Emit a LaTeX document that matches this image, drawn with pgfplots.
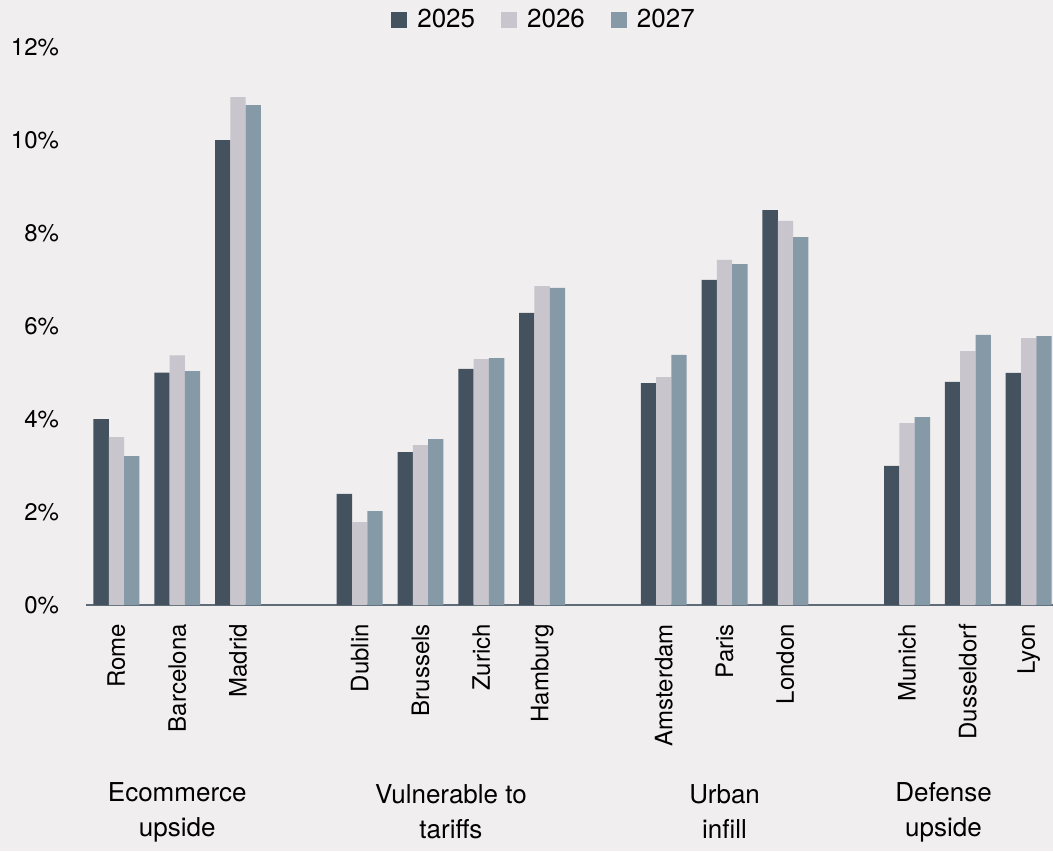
\documentclass[border=0pt]{standalone}
\usepackage{pgfplots}
\pgfplotsset{compat=1.18}
\usepackage{pgfplotstable}
\usepackage{fontspec}
\setmainfont{TeX Gyre Heros}

\definecolor{bgc}{HTML}{F1EEEF}
\definecolor{c25}{HTML}{44525F}
\definecolor{c26}{HTML}{C8C6CC}
\definecolor{c27}{HTML}{8699A7}
\definecolor{axc}{HTML}{5F6B77}
\definecolor{txt}{HTML}{1A1A1A}

% x: slot position (empty slots 3, 8, 12 separate the groups)
\pgfplotstableread{
x  y25   y26   y27
0  4.00  3.61  3.20
1  5.00  5.37  5.03
2  10.00 10.92 10.75
4  2.39  1.78  2.02
5  3.29  3.44  3.57
6  5.08  5.29  5.31
7  6.28  6.86  6.82
9  4.77  4.90  5.38
10 6.99  7.42  7.33
11 8.49  8.26  7.91
13 2.99  3.91  4.04
14 4.80  5.46  5.81
15 4.99  5.74  5.78
}\cities

\begin{document}
\begin{tikzpicture}[font=\color{txt}]
\path[use as bounding box, fill=bgc] (0,0) rectangle (526.5pt,-425.5pt);
\begin{axis}[
    at={(43pt,-302.5pt)}, anchor=south west,
    width=483.5pt, height=279pt, scale only axis,
    ybar=0pt, bar width=7.65pt,
    xmin=-0.5, xmax=15.4,
    ymin=0, ymax=12,
    ytick={0,2,...,12},
    yticklabel={\pgfmathprintnumber{\tick}\%},
    /pgf/number format/assume math mode=true,
    xtick={0,1,2,4,5,6,7,9,10,11,13,14,15},
    xticklabels={Rome,Barcelona,Madrid,Dublin,Brussels,Zurich,Hamburg,
                 Amsterdam,Paris,London,Munich,Dusseldorf,Lyon},
    xticklabel style={rotate=90, anchor=east, font=\fontsize{12}{14}\selectfont},
    xticklabel shift=6pt,
    yticklabel style={anchor=east, font=\fontsize{12}{14}\selectfont},
    yticklabel shift=10pt,
    major tick length=0pt,
    axis x line*=bottom,
    axis y line*=left,
    y axis line style={draw=none},
    x axis line style={draw=axc, line width=1pt, -},
    clip=false,
    legend style={at={(0.4747,1.048)}, anchor=center, draw=none, fill=none,
                  legend columns=-1, font=\fontsize{13}{15}\selectfont,
                  /tikz/every odd column/.append style={column sep=3pt},
                  /tikz/every even column/.append style={column sep=11pt}},
    legend image code/.code={\fill[#1] (0pt,-4pt) rectangle (8pt,4pt);},
  ]
  \addplot[fill=c25, draw=none] table[x=x, y=y25] {\cities};
  \addplot[fill=c26, draw=none] table[x=x, y=y26] {\cities};
  \addplot[fill=c27, draw=none] table[x=x, y=y27] {\cities};
  \legend{2025,2026,2027}

  \begin{scope}[every node/.style={align=center, font=\fontsize{13}{17.5}\selectfont}]
    \node at (axis cs:1,-4.45) {Ecommerce\\upside};
    \node at (axis cs:5.5,-4.45) {Vulnerable to\\tariffs};
    \node at (axis cs:10,-4.45) {Urban\\infill};
    \node at (axis cs:13.6,-4.45) {Defense\\upside};
  \end{scope}
\end{axis}
\end{tikzpicture}
\end{document}
